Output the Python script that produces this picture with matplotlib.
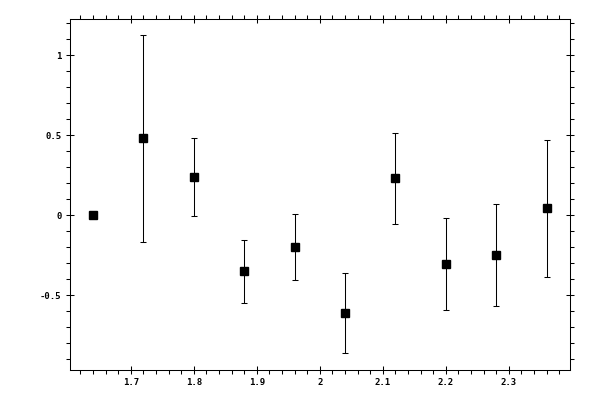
import matplotlib
matplotlib.use('Agg')
import matplotlib.pyplot as plt
from matplotlib.ticker import MultipleLocator

# data
x_vals = [1.64, 1.72, 1.80, 1.88, 1.96, 2.04, 2.12, 2.20, 2.28, 2.36]
y_vals = [0.0, 0.48, 0.24, -0.35, -0.20, -0.61, 0.23, -0.305, -0.25, 0.044]
y_err = [0.0, 0.645, 0.245, 0.197, 0.206, 0.252, 0.283, 0.29, 0.32, 0.428]

x_ticks = [1.7, 1.8, 1.9, 2.0, 2.1, 2.2, 2.3]
x_labels = ['1.7', '1.8', '1.9', '2', '2.1', '2.2', '2.3']
y_ticks = [-0.5, 0, 0.5, 1]
y_labels = ['-0.5', '0', '0.5', '1']

fig = plt.figure(figsize=(6, 4), dpi=100)
ax = fig.add_axes([0.116, 0.075, 0.834, 0.877])

lw = 0.75
ax.errorbar(x_vals, y_vals, yerr=y_err, fmt='s', color='black', ms=5.5,
            ecolor='black', elinewidth=lw, capsize=2.2, capthick=lw)

ax.set_xlim(1.603, 2.397)
ax.set_ylim(-0.967, 1.225)

ax.set_xticks(x_ticks)
ax.set_xticklabels(x_labels)
ax.set_yticks(y_ticks)
ax.set_yticklabels(y_labels)
ax.xaxis.set_minor_locator(MultipleLocator(0.02))
ax.yaxis.set_minor_locator(MultipleLocator(0.1))

for s in ax.spines.values():
    s.set_linewidth(lw)

ax.tick_params(which='major', direction='inout', length=5.8, width=lw,
               top=True, right=True, labelsize=6.5, pad=3)
ax.tick_params(which='minor', direction='out', length=2.6, width=lw,
               top=True, right=True)

for lab in ax.get_xticklabels() + ax.get_yticklabels():
    lab.set_family('DejaVu Sans Mono')
    lab.set_fontweight('bold')

fig.savefig('out.png', dpi=100)
